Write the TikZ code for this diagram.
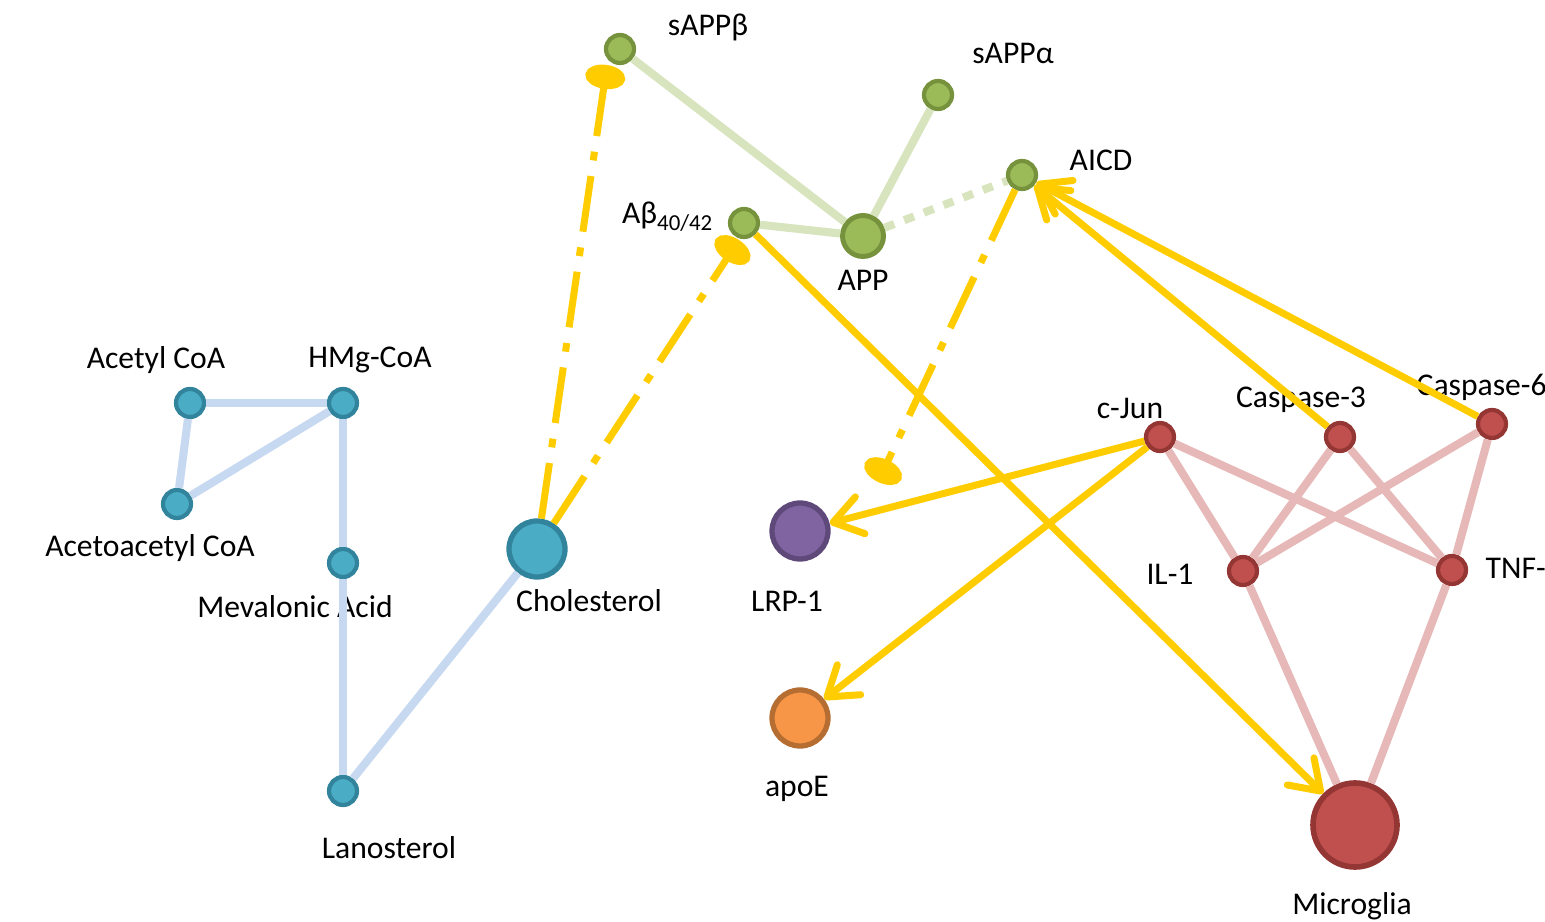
\documentclass[tikz,border=0pt]{standalone}
\usepackage{fontspec}
\setmainfont{Carlito}
\usetikzlibrary{arrows.meta}
\definecolor{lipidfill}{HTML}{4BACC6}
\definecolor{lipiddraw}{HTML}{31849B}
\definecolor{lipidline}{HTML}{C6D9F1}
\definecolor{amyfill}{HTML}{9BBB59}
\definecolor{amydraw}{HTML}{76923C}
\definecolor{amyline}{HTML}{D7E4BD}
\definecolor{inffill}{HTML}{C0504D}
\definecolor{infdraw}{HTML}{943634}
\definecolor{infline}{HTML}{E6B9B8}
\definecolor{lrpfill}{HTML}{8064A2}
\definecolor{lrpdraw}{HTML}{5F497A}
\definecolor{apofill}{HTML}{F79646}
\definecolor{apodraw}{HTML}{B66D31}
\definecolor{signal}{HTML}{FFCC00}
\tikzset{
	molecule/.style={circle,draw,line width=1.2pt,inner sep=0pt,minimum size=2.8mm},
	lipid/.style={molecule,fill=lipidfill,draw=lipiddraw},
	amyloid/.style={molecule,fill=amyfill,draw=amydraw},
	inflam/.style={molecule,fill=inffill,draw=infdraw},
	big/.style={minimum size=5.6mm,line width=1.5pt},
	lbl/.style={font=\fontsize{9}{11}\selectfont,inner sep=0pt},
	lipidlink/.style={draw=lipidline,line width=2.3pt},
	amylink/.style={draw=amyline,line width=2.3pt},
	inflink/.style={draw=infline,line width=2.3pt},
	act/.style={draw=signal,line width=2pt,-{Straight Barb[length=2.8mm,width=3.8mm,round]}},
	inh/.style={draw=signal,line width=2pt,dash pattern=on 16pt off 4.5pt on 2.5pt off 4.5pt,-{Ellipse[length=2.4mm,width=4mm]}}
}
\begin{document}
\begin{tikzpicture}
	\useasboundingbox (0,0) rectangle (15.45,-9.22);
	\node[lipid] (acetyl) at (1.90,-4.03) {};
	\node[lipid] (hmg) at (3.43,-4.03) {};
	\node[lipid] (acac) at (1.77,-5.04) {};
	\node[lipid] (meva) at (3.43,-5.63) {};
	\node[lipid] (lano) at (3.43,-7.91) {};
	\node[lipid,big] (chol) at (5.37,-5.49) {};
	\node[amyloid] (sappb) at (6.20,-0.49) {};
	\node[amyloid] (sappa) at (9.38,-0.95) {};
	\node[amyloid] (aicd) at (10.22,-1.75) {};
	\node[amyloid] (abeta) at (7.44,-2.23) {};
	\node[amyloid,minimum size=4.1mm,line width=1.4pt] (app) at (8.63,-2.36) {};
	\node[molecule,big,fill=lrpfill,draw=lrpdraw] (lrp) at (8.00,-5.31) {};
	\node[molecule,big,fill=apofill,draw=apodraw] (apoe) at (8.00,-7.18) {};
	\node[inflam] (cjun) at (11.60,-4.37) {};
	\node[inflam] (casp3) at (13.40,-4.37) {};
	\node[inflam] (casp6) at (14.92,-4.24) {};
	\node[inflam] (il1) at (12.43,-5.71) {};
	\node[inflam] (tnf) at (14.52,-5.70) {};
	\node[inflam,minimum size=8.4mm,line width=1.6pt] (micro) at (13.55,-8.25) {};

	\node[lbl] (acetyl-t) at (1.56,-3.60) {Acetyl CoA};
	\node[lbl] (hmg-t) at (3.70,-3.60) {HMg-CoA};
	\node[lbl] (acac-t) at (1.50,-5.48) {Acetoacetyl CoA};
	\node[lbl] (meva-t) at (2.95,-6.07) {Mevalonic Acid};
	\node[lbl] (lano-t) at (3.89,-8.48) {Lanosterol};
	\node[lbl] (chol-t) at (5.89,-6.01) {Cholesterol};
	\node[lbl] (sappb-t) at (7.08,-0.27) {sAPPβ};
	\node[lbl] (sappa-t) at (10.13,-0.53) {sAPPα};
	\node[lbl] (aicd-t) at (11.01,-1.60) {AICD};
	\node[lbl,anchor=east] (abeta-t) at (7.13,-2.17) {Aβ\raisebox{-0.45ex}{\fontsize{6.5}{8}\selectfont 40/42}};
	\node[lbl] (app-t) at (8.63,-2.80) {APP};
	\node[lbl] (lrp-t) at (7.87,-6.01) {LRP-1};
	\node[lbl] (apoe-t) at (7.97,-7.89) {apoE};
	\node[lbl] (cjun-t) at (11.30,-4.08) {c-Jun};
	\node[lbl] (casp3-t) at (13.01,-4.00) {Caspase-3};
	\node[lbl,anchor=west] (casp6-t) at (14.16,-3.87) {Caspase-6};
	\node[lbl] (il1-t) at (11.70,-5.74) {IL-1};
	\node[lbl,anchor=west] (tnf-t) at (14.85,-5.68) {TNF-};
	\node[lbl] (micro-t) at (13.52,-9.06) {Microglia};

	\draw[lipidlink] (acetyl) -- (hmg);
	\draw[lipidlink] (acetyl) -- (acac);
	\draw[lipidlink] (acac) -- (hmg);
	\draw[lipidlink] (hmg) -- (meva);
	\draw[lipidlink] (meva) -- (lano);
	\draw[lipidlink] (lano) -- (chol);

	\draw[amylink] (sappb) -- (app);
	\draw[amylink] (sappa) -- (app);
	\draw[amylink] (abeta) -- (app);
	\draw[amylink,dash pattern=on 3pt off 3pt] (app) -- (aicd);

	\draw[inflink] (cjun) -- (il1);
	\draw[inflink] (cjun) -- (tnf);
	\draw[inflink] (casp3) -- (il1);
	\draw[inflink] (casp3) -- (tnf);
	\draw[inflink] (casp6) -- (il1);
	\draw[inflink] (casp6) -- (tnf);
	\draw[inflink] (il1) -- (micro);
	\draw[inflink] (tnf) -- (micro);

	\coordinate (sappb-inh) at (6.07,-0.65);
	\coordinate (abeta-inh) at (7.39,-2.40);
	\coordinate (aicd-inh) at (8.78,-4.82);
	\draw[inh] (chol) -- (sappb-inh);
	\draw[inh] (chol) -- (abeta-inh);
	\draw[inh] (aicd) -- (aicd-inh);

	\draw[act] (abeta) -- (micro);
	\draw[act] (cjun) -- (lrp);
	\draw[act] (cjun) -- (apoe);
	\draw[act] (casp3) -- (aicd);
	\draw[act] (casp6) -- (aicd);
\end{tikzpicture}
\end{document}
